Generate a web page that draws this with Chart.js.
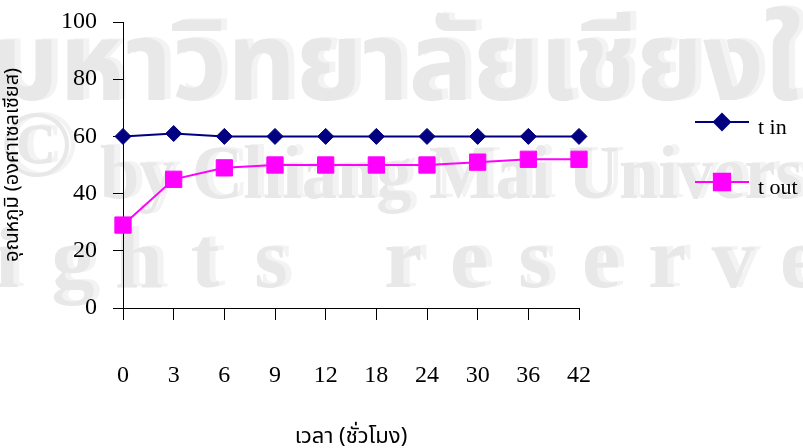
<!DOCTYPE html>
<html>
<head>
<meta charset="utf-8">
<script src="https://cdn.jsdelivr.net/npm/chart.js@4.4.1/dist/chart.umd.min.js"></script>
<style>
  html, body { margin: 0; padding: 0; background: #fff; overflow: hidden; }
  #wrap { width: 803px; height: 448px; }
</style>
</head>
<body>
<div id="wrap"><canvas id="c" width="803" height="448"></canvas></div>
<script>
// Sampling times (hours) and measured temperatures (°C)
const hours = ['0', '3', '6', '9', '12', '18', '24', '30', '36', '42'];
const tIn = [60, 61, 60, 60, 60, 60, 60, 60, 60, 60];
const tOut = [29, 45, 49, 50, 50, 50, 50, 51, 52, 52];
const tempTicks = [0, 20, 40, 60, 80, 100];
const seriesNames = ['t in', 't out'];
const xTitle = 'เวลา (ชั่วโมง)';
const yTitle = 'อุณหภูมิ (องศาเซลเซียส)';

const SERIF = '"Liberation Serif", "Times New Roman", serif';
const THAI = '"Noto Sans Thai", "Noto Serif Thai", Loma, Garuda, "Tlwg Typo", "Liberation Serif", serif';

// Light grey university watermark behind the plot
const watermark = {
  id: 'watermark',
  beforeDraw(chart) {
    const ctx = chart.ctx;
    ctx.save();
    ctx.fillStyle = '#fff';
    ctx.fillRect(0, 0, chart.width, chart.height);
    const layers = [[6, -1, 'rgb(243,243,243)'], [0, 0, 'rgb(232,232,232)']];
    for (const [dx, dy, col] of layers) {
      ctx.fillStyle = col;
      ctx.textBaseline = 'alphabetic';

      // Thai line
      ctx.font = 'bold 110px ' + THAI;
      ctx.textAlign = 'left';
      const th = 'มหาวิทยาลัยเชียงใหม่';
      const w1 = ctx.measureText('มหาวิทยาลัยเชียงใ').width;
      ctx.save();
      ctx.translate(-10 + dx, 100 + dy);
      ctx.scale(810 / w1, 1);
      ctx.fillText(th, 0, 0);
      ctx.restore();

      // copyright sign
      ctx.font = 'bold 96px ' + SERIF;
      ctx.textAlign = 'center';
      ctx.fillText('©', 36 + dx, 176 + dy);

      // English line
      ctx.font = 'bold 76px ' + SERIF;
      ctx.textAlign = 'left';
      const w2 = ctx.measureText('by Chiang Mai Univers').width;
      ctx.save();
      ctx.translate(100 + dx, 198 + dy);
      ctx.scale(703 / w2, 1);
      ctx.fillText('by Chiang Mai University', 0, 0);
      ctx.restore();

      // spaced line
      ctx.font = 'bold 86px ' + SERIF;
      ctx.textAlign = 'center';
      const rr = 'All rights reserved';
      for (let i = 0; i < rr.length; i++) {
        if (rr[i] !== ' ') ctx.fillText(rr[i], 7 + 66 * (i - 5) + dx, 287 + dy);
      }
    }
    ctx.restore();
  }
};

// Legend on the right: line segment with marker, then the series name
const sideLegend = {
  id: 'sideLegend',
  afterDraw(chart) {
    const ctx = chart.ctx;
    const rows = [122, 182];
    chart.data.datasets.forEach((ds, i) => {
      const y = rows[i];
      ctx.save();
      ctx.strokeStyle = ds.borderColor;
      ctx.lineWidth = 2;
      ctx.beginPath();
      ctx.moveTo(695, y);
      ctx.lineTo(749, y);
      ctx.stroke();
      ctx.fillStyle = ds.pointBackgroundColor;
      ctx.strokeStyle = ds.borderColor;
      Chart.helpers.drawPoint(ctx, {
        pointStyle: ds.pointStyle, radius: ds.pointRadius, borderWidth: 1, rotation: 0
      }, 722, y);
      ctx.fillStyle = '#000';
      ctx.font = '22px ' + SERIF;
      ctx.textAlign = 'left';
      ctx.textBaseline = 'middle';
      ctx.fillText(ds.label, 758, y + 6);
      ctx.restore();
    });
  }
};

new Chart(document.getElementById('c'), {
  type: 'line',
  data: {
    labels: hours,
    datasets: [
      {
        label: seriesNames[0],
        data: tIn,
        borderColor: '#000080',
        backgroundColor: '#000080',
        pointBackgroundColor: '#000080',
        pointBorderColor: '#000080',
        pointStyle: 'rectRot',
        pointRadius: 8,
        pointBorderWidth: 1,
        borderWidth: 2,
        tension: 0,
        fill: false
      },
      {
        label: seriesNames[1],
        data: tOut,
        borderColor: '#FF00FF',
        backgroundColor: '#FF00FF',
        pointBackgroundColor: '#FF00FF',
        pointBorderColor: '#FF00FF',
        pointStyle: 'rect',
        pointRadius: 11.5,
        pointBorderWidth: 1,
        borderWidth: 2,
        tension: 0,
        fill: false
      }
    ]
  },
  options: {
    responsive: false,
    animation: false,
    devicePixelRatio: 1,
    layout: { padding: { left: 0, top: 22, right: 224, bottom: 0 } },
    plugins: {
      legend: { display: false },
      tooltip: { enabled: false }
    },
    scales: {
      x: {
        type: 'category',
        offset: false,
        grid: { display: true, drawOnChartArea: false, drawTicks: true, tickLength: 12, color: '#000', lineWidth: 1 },
        border: { display: true, color: '#000', width: 1 },
        ticks: { color: '#000', font: { family: SERIF, size: 24 }, padding: 41, maxRotation: 0, autoSkip: false },
        title: { display: true, text: xTitle, color: '#000', font: { family: THAI, size: 22, lineHeight: 0.85 }, padding: { top: 0, bottom: 0 } },
        afterFit(s) { s.height = 140; s.paddingLeft = 0; s.paddingRight = 0; }
      },
      y: {
        min: 0,
        max: 100,
        afterBuildTicks(s) { s.ticks = tempTicks.map(v => ({ value: v })); },
        grid: { display: true, drawOnChartArea: false, drawTicks: true, tickLength: 10, color: '#000', lineWidth: 1 },
        border: { display: true, color: '#000', width: 1 },
        ticks: { color: '#000', font: { family: SERIF, size: 24 }, padding: 16 },
        title: { display: true, text: yTitle, color: '#000', font: { family: THAI, size: 20, lineHeight: 1.2 }, padding: { top: 2, bottom: 0 } },
        afterFit(s) { s.width = 123; s.paddingTop = 0; s.paddingBottom = 0; }
      }
    }
  },
  plugins: [watermark, sideLegend]
});
</script>
</body>
</html>
